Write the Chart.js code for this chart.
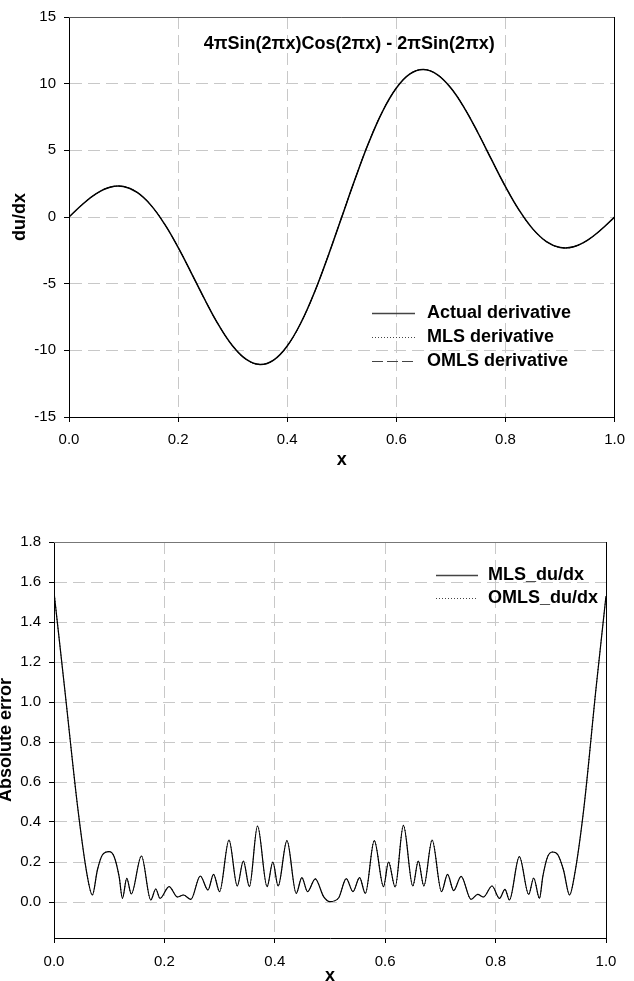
<!DOCTYPE html>
<html>
<head>
<meta charset="utf-8">
<script src="https://cdn.jsdelivr.net/npm/chart.js@4.4.0/dist/chart.umd.min.js"></script>
<style>
html, body { margin: 0; padding: 0; background: #fff; overflow: hidden; }
#top { position: absolute; left: 0; top: 0; }
#bottom { position: absolute; left: 0; top: 480px; }
</style>
</head>
<body>
<canvas id="top" width="634" height="480"></canvas>
<canvas id="bottom" width="634" height="501"></canvas>
<script>
// top panel: derivative (three curves lie on top of each other)
var derivX = [0, 0.025, 0.05, 0.075, 0.1, 0.125, 0.15, 0.175, 0.2, 0.225, 0.25, 0.275, 0.3, 0.325, 0.35, 0.375,
  0.4, 0.425, 0.45, 0.475, 0.5, 0.525, 0.55, 0.575, 0.6, 0.625, 0.65, 0.675, 0.7, 0.725, 0.75, 0.775,
  0.8, 0.825, 0.85, 0.875, 0.9, 0.925, 0.95, 0.975, 1];
var actualDeriv = [0, 0.96, 1.75, 2.23, 2.28, 1.84, 0.89, -0.52, -2.28, -4.26, -6.28, -8.15, -9.67, -10.68, -11.06, -10.73,
  -9.67, -7.94, -5.64, -2.92, 0, 2.92, 5.64, 7.94, 9.67, 10.73, 11.06, 10.68, 9.67, 8.15, 6.28, 4.26,
  2.28, 0.52, -0.89, -1.84, -2.28, -2.23, -1.75, -0.96, 0];
var mlsDeriv = actualDeriv;   // indistinguishable from the actual curve in the picture
var omlsDeriv = actualDeriv;
var derivYTicks = [-15, -10, -5, 0, 5, 10, 15];

// bottom panel: absolute error
var errX = [0, 0.02, 0.0435, 0.0605, 0.0695, 0.0786, 0.0876, 0.0997, 0.1088, 0.118, 0.124, 0.1318, 0.14, 0.1584,
  0.1753, 0.1844, 0.192, 0.2085, 0.2236, 0.2345, 0.248, 0.265, 0.279, 0.289, 0.3, 0.317, 0.332, 0.343, 0.354,
  0.3687, 0.386, 0.3965, 0.406, 0.422, 0.4388, 0.449, 0.4593, 0.4733, 0.4884, 0.5, 0.5155, 0.5295, 0.5416,
  0.5536, 0.564, 0.5802, 0.597, 0.606, 0.618, 0.633, 0.65, 0.66, 0.67, 0.685, 0.702, 0.713, 0.724, 0.7375,
  0.7555, 0.7676, 0.778, 0.7936, 0.807, 0.817, 0.825, 0.843, 0.86, 0.869, 0.8795, 0.8855, 0.8945, 0.9035,
  0.913, 0.923, 0.934, 0.9425, 0.9595, 0.982, 1];
var mlsErr = [1.55, 1.05, 0.46, 0.127, 0.035, 0.16, 0.235, 0.252, 0.228, 0.127, 0.018, 0.118, 0.04, 0.23,
  0.01, 0.065, 0.018, 0.077, 0.025, 0.035, 0.013, 0.13, 0.06, 0.138, 0.052, 0.31, 0.08, 0.205, 0.077,
  0.38, 0.077, 0.2, 0.08, 0.307, 0.043, 0.122, 0.052, 0.116, 0.027, 0.002, 0.02, 0.117, 0.052,
  0.122, 0.043, 0.307, 0.077, 0.2, 0.075, 0.383, 0.08, 0.205, 0.08, 0.31, 0.052, 0.138, 0.057, 0.128,
  0.013, 0.038, 0.025, 0.08, 0.018, 0.063, 0.01, 0.227, 0.038, 0.12, 0.018, 0.127, 0.228, 0.25,
  0.235, 0.16, 0.035, 0.127, 0.46, 1.07, 1.53];
var omlsErr = mlsErr;         // same curve as MLS in the picture
var errYTicks = [0, 0.2, 0.4, 0.6, 0.8, 1.0, 1.2, 1.4, 1.6, 1.8];

var xTicks = [0, 0.2, 0.4, 0.6, 0.8, 1.0];

var FONT = 'Arial, "Liberation Sans", Helvetica, sans-serif';
Chart.defaults.font.family = FONT;
Chart.defaults.font.size = 15;
Chart.defaults.color = '#000';

function pts(xs, ys) {
  return xs.map(function (x, i) { return { x: x, y: ys[i] }; });
}

// frame, in-plot title and in-plot legend
var deco = {
  id: 'deco',
  afterDatasetsDraw: function (chart, args, o) {
    var ctx = chart.ctx, a = chart.chartArea;
    var al = function (p) { return Math.round(p - 0.5) + 0.5; };
    ctx.save();
    ctx.setLineDash([]);
    ctx.lineWidth = 1;
    ctx.strokeStyle = o.topColor;
    ctx.beginPath(); ctx.moveTo(a.left, al(a.top)); ctx.lineTo(a.right, al(a.top)); ctx.stroke();
    ctx.strokeStyle = '#000';
    ctx.beginPath(); ctx.moveTo(al(a.right), a.top); ctx.lineTo(al(a.right), a.bottom); ctx.stroke();

    ctx.font = 'bold 18px ' + FONT;
    ctx.fillStyle = '#000';
    ctx.textBaseline = 'middle';
    if (o.title) {
      ctx.textAlign = 'center';
      ctx.fillText(o.title, (a.left + a.right) / 2 + o.titleDx, a.top + o.titleDy);
    }
    ctx.textAlign = 'left';
    chart.data.datasets.forEach(function (ds, i) {
      var y = Math.round(a.top + o.legY + i * o.legStep);
      var x0 = a.left + o.legX;
      ctx.strokeStyle = '#444';
      ctx.lineWidth = ds.borderDash ? 1 : 1.5;
      ctx.setLineDash(ds.borderDash || []);
      ctx.beginPath(); ctx.moveTo(x0, y + 0.5); ctx.lineTo(x0 + o.legLen, y + 0.5); ctx.stroke();
      ctx.fillText(ds.label, x0 + o.legLen + o.legGap, y);
    });
    ctx.restore();
  }
};

function xAxis(h, titlePad, tickPad) {
  return {
    type: 'linear', min: 0, max: 1,
    afterBuildTicks: function (s) { s.ticks = xTicks.map(function (v) { return { value: v }; }); },
    afterFit: function (s) { s.height = h; },
    grid: { color: '#c8c8c8', tickColor: '#000', tickLength: 5 },
    border: { color: '#000', width: 1, dash: [12, 6] },
    ticks: { padding: tickPad, maxRotation: 0, callback: function (v) { return v.toFixed(1); } },
    title: { display: true, text: 'x', font: { size: 18, weight: 'bold' }, padding: { top: 0, bottom: titlePad } }
  };
}

function yAxis(w, min, max, ticks, fmt, title, titlePad) {
  return {
    type: 'linear', min: min, max: max,
    afterBuildTicks: function (s) { s.ticks = ticks.map(function (v) { return { value: v }; }); },
    afterFit: function (s) { s.width = w; },
    grid: { color: '#c8c8c8', tickColor: '#000', tickLength: 5 },
    border: { color: '#000', width: 1, dash: [12, 6] },
    ticks: { padding: 8, callback: fmt },
    title: { display: true, text: title, font: { size: 18, weight: 'bold' }, padding: { top: titlePad, bottom: 0 } }
  };
}

new Chart(document.getElementById('top').getContext('2d'), {
  type: 'line',
  data: {
    datasets: [
      { label: 'Actual derivative', data: pts(derivX, actualDeriv), borderColor: '#000', borderWidth: 1.5 },
      { label: 'MLS derivative', data: pts(derivX, mlsDeriv), borderColor: '#000', borderWidth: 1, borderDash: [1, 2] },
      { label: 'OMLS derivative', data: pts(derivX, omlsDeriv), borderColor: '#000', borderWidth: 1, borderDash: [11, 4] }
    ]
  },
  options: {
    responsive: false,
    animation: false,
    devicePixelRatio: 1,
    elements: { point: { radius: 0 }, line: { tension: 0.4 } },
    layout: { padding: { top: 17, right: 13, left: 0, bottom: 0 } },
    scales: {
      x: xAxis(63, 9, 9),
      y: yAxis(69, -15, 15, derivYTicks, function (v) { return String(v); }, 'du/dx', 9)
    },
    plugins: {
      legend: { display: false },
      tooltip: { enabled: false },
      deco: { topColor: '#555', title: '4\u03c0Sin(2\u03c0x)Cos(2\u03c0x) - 2\u03c0Sin(2\u03c0x)', titleDx: 7.5, titleDy: 27.5,
        legX: 303, legY: 295.7, legStep: 24, legLen: 43, legGap: 12 }
    }
  },
  plugins: [deco]
});

new Chart(document.getElementById('bottom').getContext('2d'), {
  type: 'line',
  data: {
    datasets: [
      { label: 'MLS_du/dx', data: pts(errX, mlsErr), borderColor: '#000', borderWidth: 1.2 },
      { label: 'OMLS_du/dx', data: pts(errX, omlsErr), borderColor: '#000', borderWidth: 1, borderDash: [1, 2] }
    ]
  },
  options: {
    responsive: false,
    animation: false,
    devicePixelRatio: 1,
    elements: { point: { radius: 0 }, line: { cubicInterpolationMode: 'monotone' } },
    layout: { padding: { top: 62, right: 28, left: 0, bottom: 0 } },
    scales: {
      x: xAxis(43, -6, 10),
      y: yAxis(54, -0.18, 1.8, errYTicks, function (v) { return v.toFixed(1); }, 'Absolute error', -5)
    },
    plugins: {
      legend: { display: false },
      tooltip: { enabled: false },
      deco: { topColor: '#777', title: '', titleDx: 0, titleDy: 0,
        legX: 382, legY: 33, legStep: 22.5, legLen: 42, legGap: 10 }
    }
  },
  plugins: [deco]
});
</script>
</body>
</html>
